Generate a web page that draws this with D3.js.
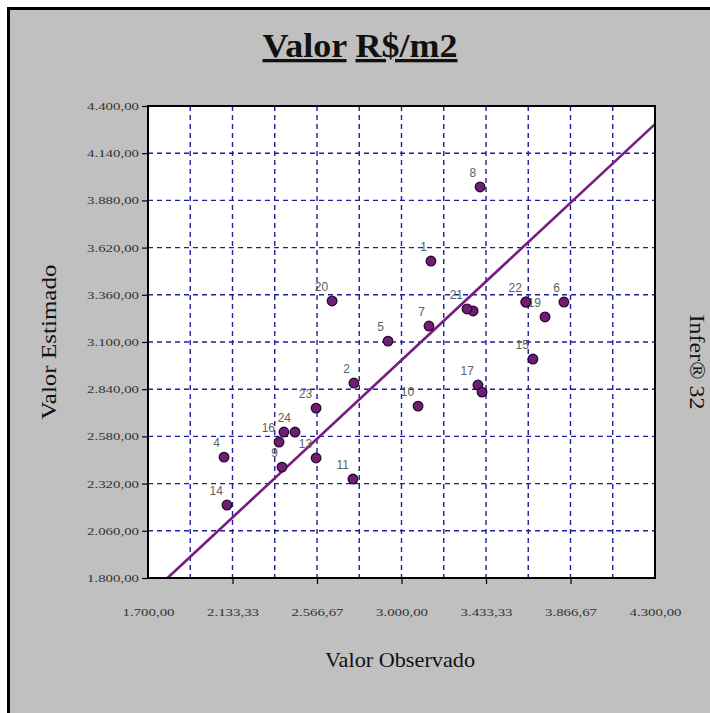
<!DOCTYPE html>
<html>
<head>
<meta charset="utf-8">
<script src="https://cdn.jsdelivr.net/npm/d3@7"></script>
<style>
  html, body { margin: 0; padding: 0; background: #ffffff; }
  svg { display: block; }
</style>
</head>
<body>
<svg id="chart" width="710" height="713"></svg>
<script>
// ---- data ----
const pointLabels = ["1","2","3","4","5","6","7","8","9","10","11","12","13","14","15","16","17","18","19","20","21","22","23","24"];
const showLabel   = [true,true,false,true,true,true,true,true,true,true,true,false,true,true,true,true,true,false,true,true,true,true,true,true];
const observed = [3151,2756,3367,2090,2931,3833,3141,3403,2387,3085,2751,2397,2562,2105,3674,2372,3392,3413,3736,2644,3336,3638,2562,2454];
const estimated = [3546,2874,3271,2466,3105,3320,3188,3954,2411,2747,2345,2604,2461,2202,3006,2549,2863,2824,3238,3326,3282,3320,2736,2604];

const xTickValues = [1700, 2133.33, 2566.67, 3000, 3433.33, 3866.67, 4300];
const xTickLabels = ["1.700,00","2.133,33","2.566,67","3.000,00","3.433,33","3.866,67","4.300,00"];
const xGridValues = [1916.67, 2133.33, 2350, 2566.67, 2783.33, 3000, 3216.67, 3433.33, 3650, 3866.67, 4083.33];
const yTickValues = [1800, 2060, 2320, 2580, 2840, 3100, 3360, 3620, 3880, 4140, 4400];
const yTickLabels = ["1.800,00","2.060,00","2.320,00","2.580,00","2.840,00","3.100,00","3.360,00","3.620,00","3.880,00","4.140,00","4.400,00"];
const yGridValues = [2060, 2320, 2580, 2840, 3100, 3360, 3620, 3880, 4140];
const identityLine = [1800, 4300];

const titleText = "Valor R$/m2";
const xTitle = "Valor Observado";
const yTitle = "Valor Estimado";
const sideText = "Infer® 32";

// ---- layout ----
const svg = d3.select("#chart");
const L = 148, R = 655, T = 106, B = 578;
const x = d3.scaleLinear().domain([1700, 4300]).range([L, R]);
const y = d3.scaleLinear().domain([1800, 4400]).range([B, T]);
const serif = "'Liberation Serif','Times New Roman',serif";
const sans = "'Liberation Sans',Arial,sans-serif";

// outer frame
svg.append("rect").attr("x", 0).attr("y", 0).attr("width", 710).attr("height", 713).attr("fill", "#ffffff");
svg.append("rect").attr("x", 8.5).attr("y", 8.5).attr("width", 740).attr("height", 740)
  .attr("fill", "#c0c0c0").attr("stroke", "#000").attr("stroke-width", 3);

// title with underlined words
const title = svg.append("text").attr("x", 360).attr("y", 57).attr("text-anchor", "middle")
  .attr("font-family", serif).attr("font-weight", "bold").attr("font-size", 33).attr("fill", "#111")
  .attr("textLength", 195).attr("lengthAdjust", "spacingAndGlyphs");
title.append("tspan").attr("text-decoration", "underline").text("Valor");
title.append("tspan").text(" ");
title.append("tspan").attr("text-decoration", "underline").text("R$/m2");

// plot background
svg.append("rect").attr("x", L).attr("y", T).attr("width", R - L).attr("height", B - T).attr("fill", "#ffffff");

// gridlines
const gridColor = "#1f1fa0";
svg.append("g").selectAll("line").data(xGridValues).join("line")
  .attr("x1", d => x(d)).attr("x2", d => x(d)).attr("y1", T).attr("y2", B)
  .attr("stroke", gridColor).attr("stroke-width", 1.4).attr("stroke-dasharray", "5,4");
svg.append("g").selectAll("line").data(yGridValues).join("line")
  .attr("x1", L).attr("x2", R).attr("y1", d => y(d)).attr("y2", d => y(d))
  .attr("stroke", gridColor).attr("stroke-width", 1.4).attr("stroke-dasharray", "5,4");

// identity line
svg.append("line")
  .attr("x1", x(identityLine[0])).attr("y1", y(identityLine[0]))
  .attr("x2", x(identityLine[1])).attr("y2", y(identityLine[1]))
  .attr("stroke", "#7a1a82").attr("stroke-width", 2.6);

// plot border
svg.append("rect").attr("x", L).attr("y", T).attr("width", R - L).attr("height", B - T)
  .attr("fill", "none").attr("stroke", "#000").attr("stroke-width", 2);

// y axis
const yAxis = d3.axisLeft(y).tickValues(yTickValues).tickSize(6).tickPadding(3)
  .tickFormat((d, i) => yTickLabels[i]);
const gy = svg.append("g").attr("transform", `translate(${L},0)`).call(yAxis);
gy.select(".domain").remove();
gy.selectAll(".tick line").attr("stroke", "#000").attr("stroke-width", 1.2);
gy.selectAll(".tick text").attr("font-family", serif).attr("font-size", 11).attr("fill", "#333")
  .attr("textLength", 52).attr("lengthAdjust", "spacingAndGlyphs");

// x axis
const xAxis = d3.axisBottom(x).tickValues(xTickValues).tickSize(6).tickPadding(24)
  .tickFormat((d, i) => xTickLabels[i]);
const gx = svg.append("g").attr("transform", `translate(0,${B})`).call(xAxis);
gx.select(".domain").remove();
gx.selectAll(".tick line").attr("stroke", "#000").attr("stroke-width", 1.2)
  .attr("opacity", (d, i) => (i === 0 || i === xTickValues.length - 1) ? 0 : 1);
gx.selectAll(".tick text").attr("font-family", serif).attr("font-size", 11).attr("fill", "#333")
  .attr("textLength", 52).attr("lengthAdjust", "spacingAndGlyphs");

// axis titles
svg.append("text").attr("x", 400).attr("y", 667).attr("text-anchor", "middle")
  .attr("font-family", serif).attr("font-size", 21).attr("fill", "#111")
  .attr("textLength", 150).attr("lengthAdjust", "spacingAndGlyphs").text(xTitle);
svg.append("text").attr("transform", "translate(56,342) rotate(-90)").attr("text-anchor", "middle")
  .attr("font-family", serif).attr("font-size", 21).attr("fill", "#111")
  .attr("textLength", 155).attr("lengthAdjust", "spacingAndGlyphs").text(yTitle);
svg.append("text").attr("transform", "translate(690,362) rotate(90)").attr("text-anchor", "middle")
  .attr("font-family", serif).attr("font-size", 20).attr("fill", "#111")
  .attr("textLength", 95).attr("lengthAdjust", "spacingAndGlyphs").text(sideText);

// points
const pts = observed.map((o, i) => ({ o, e: estimated[i], label: pointLabels[i], show: showLabel[i] }));
svg.append("g").selectAll("circle").data(pts).join("circle")
  .attr("cx", d => x(d.o)).attr("cy", d => y(d.e)).attr("r", 4.8)
  .attr("fill", "#6e1f72").attr("stroke", "#2a0830").attr("stroke-width", 1.3);
svg.append("g").selectAll("text").data(pts.filter(d => d.show)).join("text")
  .attr("x", d => x(d.o) - 4).attr("y", d => y(d.e) - 10)
  .attr("text-anchor", "end").attr("font-family", sans).attr("font-size", 12)
  .attr("fill", "#606060").text(d => d.label);
// 22's marker covers the leading digit of 19's label in the reference
svg.append("g").selectAll("circle").data(pts.filter(d => d.label === "22")).join("circle")
  .attr("cx", d => x(d.o)).attr("cy", d => y(d.e)).attr("r", 4.8)
  .attr("fill", "#6e1f72").attr("stroke", "#2a0830").attr("stroke-width", 1.3);
</script>
</body>
</html>
